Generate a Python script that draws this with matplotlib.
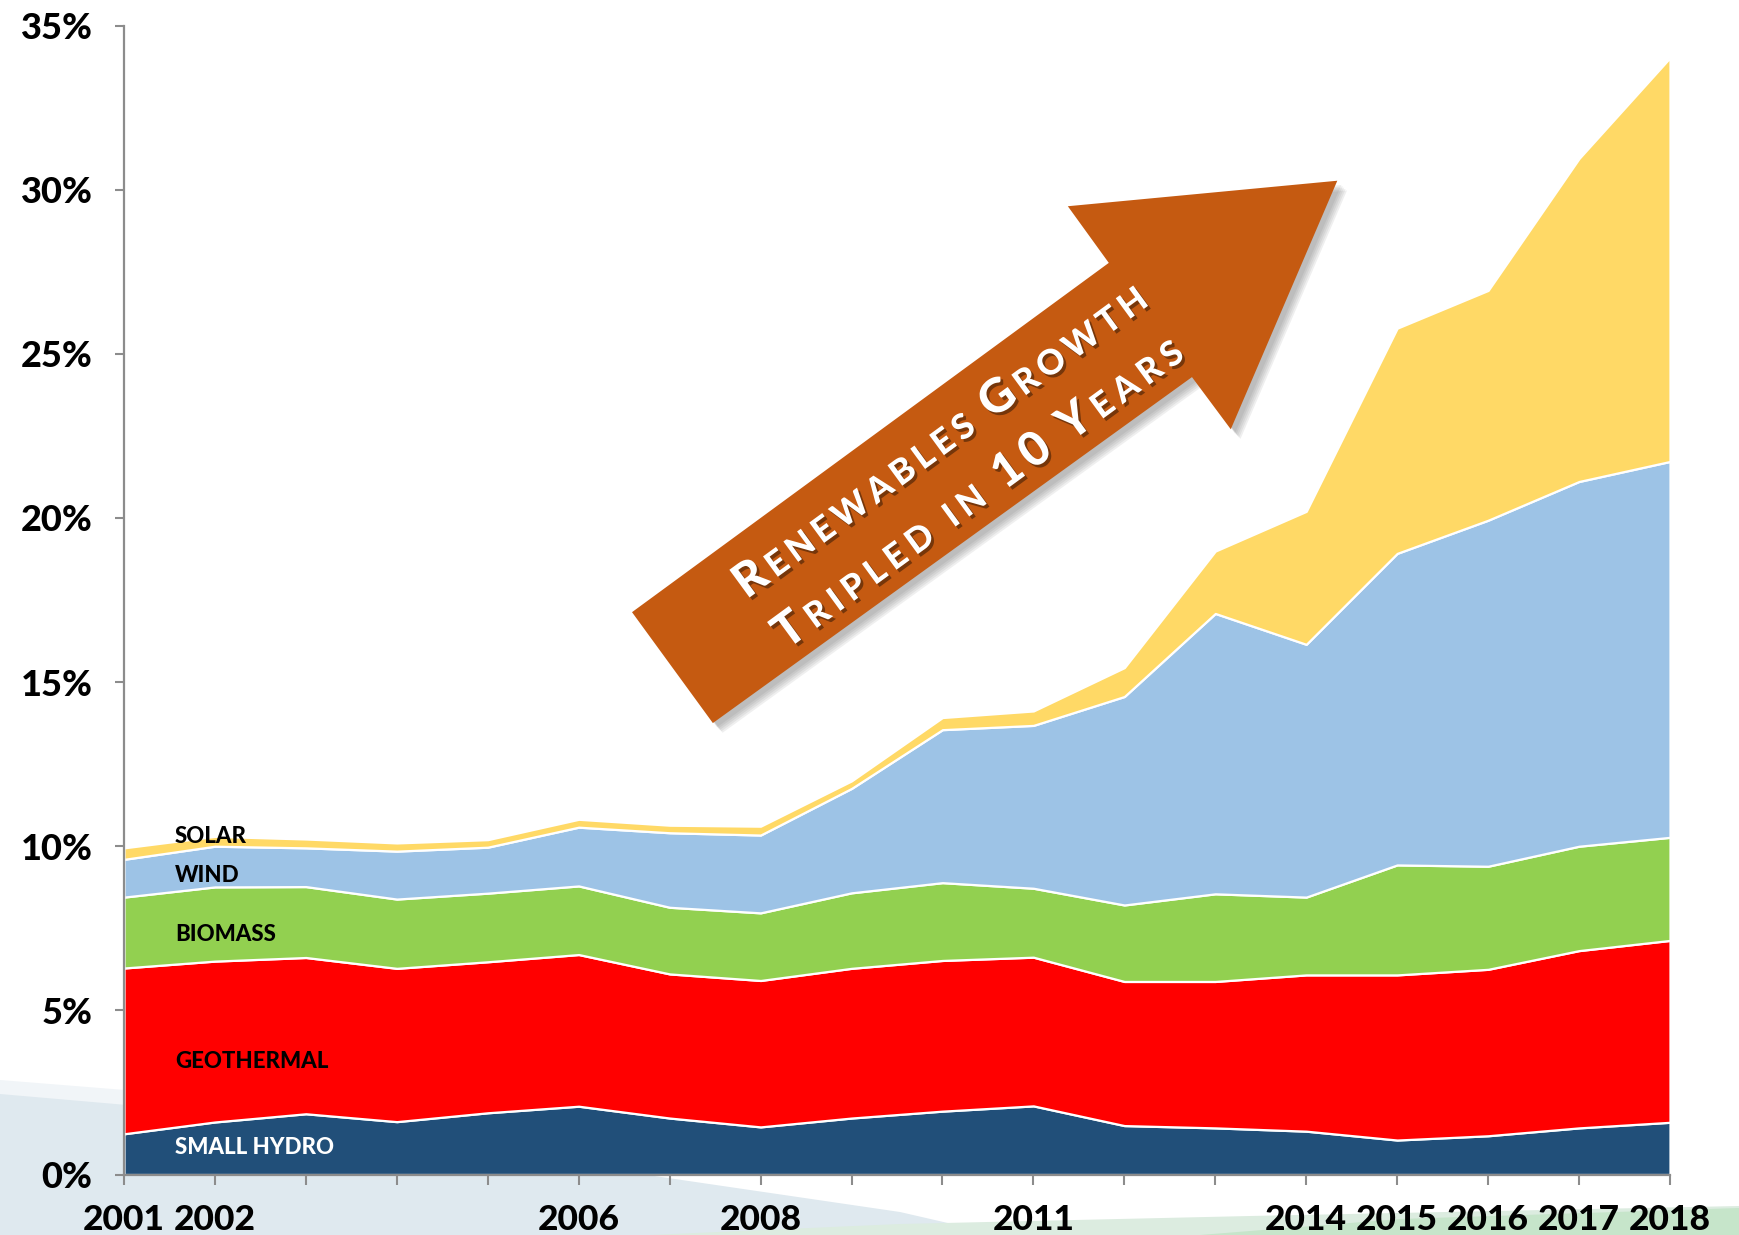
import numpy as np
import matplotlib
matplotlib.use('Agg')
import matplotlib.pyplot as plt
from matplotlib.patches import Polygon
import matplotlib.patheffects as pe
from matplotlib.transforms import IdentityTransform

# Data (share of electricity, %)
years = list(range(2001, 2019))
shown_years = [2001, 2002, 2006, 2008, 2011, 2014, 2015, 2016, 2017, 2018]

small_hydro = [1.24, 1.60, 1.85, 1.61, 1.88, 2.08, 1.72, 1.45, 1.72, 1.93, 2.09, 1.49, 1.42, 1.32, 1.05, 1.18, 1.42, 1.59]
geothermal = [5.05, 4.90, 4.76, 4.67, 4.60, 4.62, 4.39, 4.46, 4.56, 4.59, 4.53, 4.39, 4.46, 4.76, 5.03, 5.07, 5.40, 5.54]
biomass = [2.16, 2.26, 2.16, 2.11, 2.09, 2.09, 2.03, 2.06, 2.30, 2.37, 2.10, 2.33, 2.67, 2.37, 3.35, 3.14, 3.18, 3.14]
wind = [1.15, 1.24, 1.18, 1.46, 1.40, 1.79, 2.27, 2.37, 3.18, 4.66, 4.96, 6.35, 8.54, 7.70, 9.49, 10.54, 11.11, 11.45]
solar = [0.35, 0.30, 0.27, 0.25, 0.23, 0.24, 0.23, 0.27, 0.23, 0.37, 0.44, 0.88, 1.90, 4.05, 6.86, 7.00, 9.84, 12.30]

series_names = ['SMALL HYDRO', 'GEOTHERMAL', 'BIOMASS', 'WIND', 'SOLAR']
colors = ['#214f79', '#ff0000', '#92d050', '#9dc3e6', '#ffd966']
label_colors = ['white', 'black', 'black', 'black', 'black']
label_y = [0.81, 3.45, 7.30, 9.12, 10.30]

FONT = 'Lato'
plt.rcParams['font.family'] = [FONT, 'DejaVu Sans']
WEIGHT = 'black'

W, H = 1739, 1235
fig = plt.figure(figsize=(W / 100, H / 100), dpi=100)

# soft background swooshes
bg = fig.add_axes([0, 0, 1, 1], zorder=0)
bg.set_xlim(0, W)
bg.set_ylim(H, 0)
bg.axis('off')
bg.add_patch(Polygon([(0, 1080), (250, 1100), (600, 1150), (0, 1150)], closed=True,
                     facecolor='#f1f5f8', edgecolor='none'))
bg.add_patch(Polygon([(0, 1094), (300, 1120), (600, 1168), (900, 1212), (1000, 1235), (0, 1235)],
                     closed=True, facecolor='#dfe9ef', edgecolor='none'))
bg.add_patch(Polygon([(650, 1235), (900, 1224), (1250, 1216), (1739, 1206), (1739, 1235)],
                     closed=True, facecolor='#dcece0', edgecolor='none'))
bg.add_patch(Polygon([(1200, 1235), (1400, 1219), (1739, 1208), (1739, 1235)],
                     closed=True, facecolor='#c6e5ca', edgecolor='none'))

ax = fig.add_axes([124 / W, 1 - 1174.5 / H, (1670 - 124) / W, (1174.5 - 25.5) / H], zorder=1)
ax.patch.set_alpha(0)

ax.stackplot(years, small_hydro, geothermal, biomass, wind, solar,
             colors=colors, edgecolor='white', linewidth=1.6)

ax.set_xlim(2001, 2018)
ax.set_ylim(0, 35)
ax.set_xticks(years)
ax.set_xticklabels([str(y) if y in shown_years else '' for y in years])
ax.set_yticks(range(0, 36, 5))
ax.set_yticklabels([f'{v}%' for v in range(0, 36, 5)])

for s in ['top', 'right']:
    ax.spines[s].set_visible(False)
for s in ['left', 'bottom']:
    ax.spines[s].set_color('#8c8c8c')
    ax.spines[s].set_linewidth(1.6)

ax.tick_params(axis='x', length=7, width=1.5, color='#8c8c8c', pad=14, labelsize=25.5)
ax.tick_params(axis='y', length=6.5, width=1.5, color='#8c8c8c', pad=16, labelsize=26)
for lab in ax.get_xticklabels() + ax.get_yticklabels():
    lab.set_fontweight(WEIGHT)

for name, c, y in zip(series_names, label_colors, label_y):
    ax.text(2001.56, y, name, color=c, fontsize=16, fontweight=WEIGHT,
            ha='left', va='center', zorder=5)

# big arrow (axes fraction) with a soft shadow
arrow_pts = [(0.3286, 0.4894), (0.6370, 0.7934), (0.6105, 0.8427), (0.7848, 0.8649),
             (0.7159, 0.6486), (0.6908, 0.6940), (0.3809, 0.3929)]
shadow_fx = [pe.SimplePatchShadow(offset=(k, -k), shadow_rgbFace='#555555', alpha=0.09)
             for k in (7, 6, 5, 4, 3)]
arrow = Polygon(arrow_pts, closed=True, transform=ax.transAxes, facecolor='#c55a11',
                edgecolor='none', zorder=6, clip_on=False,
                path_effects=shadow_fx + [pe.Normal()])
ax.add_patch(arrow)

# small-caps text along the arrow
renderer = fig.canvas.get_renderer()
angle = 36.2
d = np.array([np.cos(np.radians(angle)), np.sin(np.radians(angle))])
n_below = np.array([d[1], -d[0]])
BIG, SMALL = 34, 25


def char_width(ch, fs):
    if ch == ' ':
        return fs * 0.3
    t = fig.text(0, 0, ch, fontsize=fs, fontweight=WEIGHT)
    w = t.get_window_extent(renderer).width
    t.remove()
    return w


def small_caps_line(text, center, target_len):
    chars = [(ch.upper(), BIG if (ch.isupper() or ch.isdigit()) else SMALL) for ch in text]
    widths = [char_width(ch, fs) for ch, fs in chars]
    track = (target_len - sum(widths)) / (len(chars) - 1)
    base = np.array(center) - d * target_len / 2 + n_below * 16
    s = 0.0
    for (ch, fs), w in zip(chars, widths):
        if ch != ' ':
            p = base + d * s
            fig.text(p[0], p[1], ch, fontsize=fs, fontweight=WEIGHT, color='white',
                     rotation=angle, rotation_mode='anchor', ha='left', va='baseline',
                     transform=IdentityTransform(), zorder=10,
                     path_effects=[pe.withSimplePatchShadow(offset=(2, -2), shadow_rgbFace='black',
                                                            alpha=0.4)])
        s += w + track


small_caps_line('Renewables Growth', (939, 796), 500)
small_caps_line('Tripled in 10 Years', (977, 744), 495)

fig.savefig('out.png', dpi=100)
